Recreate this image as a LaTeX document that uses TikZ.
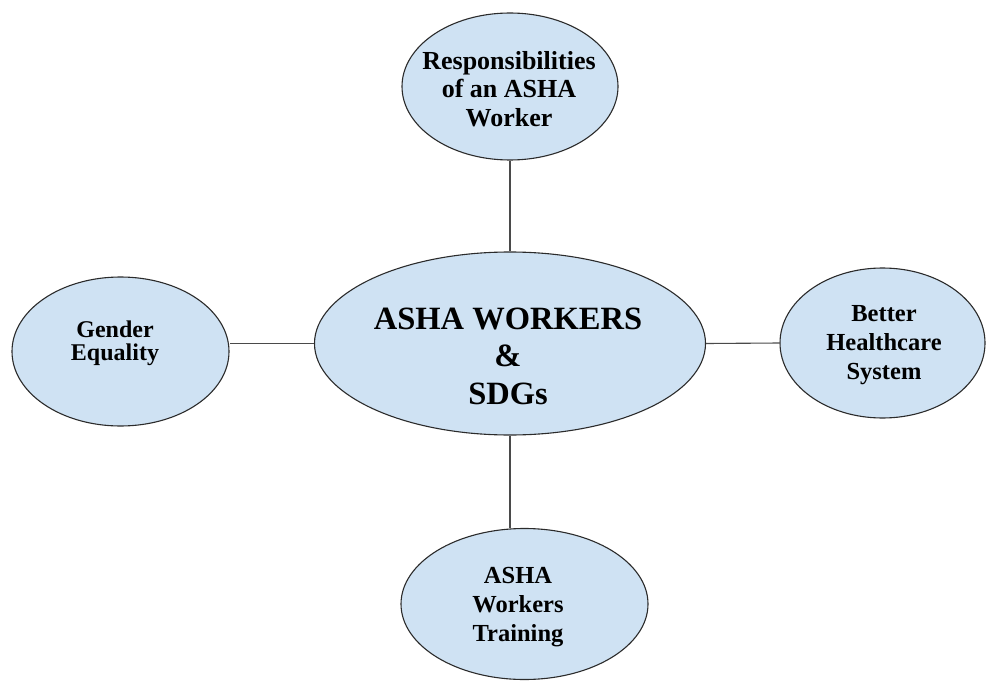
\documentclass[tikz,border=0pt]{standalone}
\usepackage{fontspec}
\setmainfont{Liberation Serif}
\usetikzlibrary{shapes.geometric}
\definecolor{blobfill}{HTML}{CFE2F3}
\definecolor{blobedge}{HTML}{2B2B2B}
\definecolor{linkcol}{HTML}{4A4A4A}
\tikzset{
  blob/.style={ellipse, draw=blobedge, fill=blobfill, line width=1.1pt, inner sep=0pt},
  lbl/.style={align=center, font=\bfseries\fontsize{24.5}{29}\selectfont, text=black},
  biglbl/.style={align=center, font=\bfseries\fontsize{32.5}{37.5}\selectfont, text=black},
  link/.style={draw=linkcol, line width=1.1pt}
}
\begin{document}
\begin{tikzpicture}[x=1pt,y=-1pt]
\useasboundingbox[fill=white] (0,0) rectangle (987,682);
% ellipses
\node[blob, minimum width=391pt, minimum height=183pt] (c) at (510,343.5) {};
\node[blob, minimum width=216pt, minimum height=147pt] (t) at (510,86.5) {};
\node[blob, minimum width=217pt, minimum height=149pt] (l) at (120.5,351.5) {};
\node[blob, minimum width=205pt, minimum height=150pt] (r) at (882.5,343) {};
\node[blob, minimum width=247pt, minimum height=151pt] (b) at (524.5,604) {};
% labels
\node[biglbl] (ct) at (508,356) {ASHA WORKERS\\\&\\SDGs};
\node[lbl, font=\bfseries\fontsize{26}{28.5}\selectfont] (tt) at (509,89) {Responsibilities\\of an ASHA\\Worker};
\node[lbl, font=\bfseries\fontsize{24}{23}\selectfont] (lt) at (115,343) {Gender\\Equality};
\node[lbl] (rt) at (884,345) {Better\\Healthcare\\System};
\node[lbl] (bt) at (518,607) {ASHA\\Workers\\Training};
% connectors
\draw[link] (t.south) -- (c.north);
\draw[link] (c.west) -- (c.west -| l.east);
\draw[link] (c.east) -- (r.west);
\draw[link] (c.south) -- (c.south |- b.north);
\end{tikzpicture}
\end{document}
